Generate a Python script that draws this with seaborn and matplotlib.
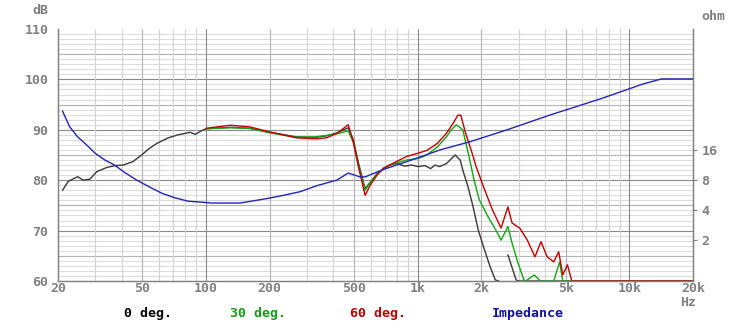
# Frequency response (0/30/60 deg) plus impedance, log frequency axis
import seaborn as sns
import matplotlib.pyplot as plt
import numpy as np

# 0 deg. (dB)
black_f = [21, 22.4, 24.8, 26.3, 28.3, 30.5, 33.9, 37.2, 40.7, 45.2, 49.7, 53.6,
           58.6, 66.3, 73.8, 84.2, 89, 95.2, 100, 130, 160, 200, 268, 330, 371,
           416, 470, 497, 525, 565, 597, 643, 688, 737, 796, 870, 938, 1006,
           1084, 1151, 1209, 1271, 1368, 1504, 1589, 1635, 1730, 1829, 1935,
           2047, 2202, 2330, 2420]
black_db = [78.0, 79.8, 80.7, 80.0, 80.2, 81.7, 82.5, 82.9, 83.0, 83.7, 85.0, 86.2,
            87.3, 88.4, 89.0, 89.5, 89.1, 89.8, 90.2, 90.5, 90.3, 89.5, 88.6, 88.5,
            88.8, 89.4, 90.4, 88.0, 83.5, 78.3, 79.6, 81.3, 82.2, 83.0, 83.3, 82.8,
            83.0, 82.7, 82.9, 82.3, 83.0, 82.7, 83.3, 85.0, 84.0, 82.0, 78.7, 74.7,
            70.1, 66.8, 62.8, 60.2, 60.0]
black2_f = [2670, 2920, 3000, 20000]
black2_db = [65.2, 60.2, 60.0, 60.0]

# 30 deg. (dB)
green_f = [100, 130, 160, 200, 268, 330, 371, 416, 470, 497, 525, 565, 597, 643,
           688, 737, 886, 1006, 1106, 1239, 1368, 1442, 1524, 1635, 1749, 1849,
           1957, 2149, 2363, 2479, 2670, 2795, 2983, 3181, 3240, 3560, 3800,
           4395, 4690, 4850, 20000]
green_db = [90.2, 90.4, 90.3, 89.4, 88.5, 88.6, 88.9, 89.2, 89.8, 87.5, 83.0, 78.0,
            79.5, 81.2, 82.2, 83.0, 84.0, 84.3, 85.0, 86.6, 88.6, 90.0, 91.0, 90.0,
            84.7, 80.0, 76.1, 72.8, 69.8, 68.1, 70.8, 67.5, 63.5, 60.2, 60.0, 61.2,
            60.0, 60.0, 63.8, 60.0, 60.0]

# 60 deg. (dB)
red_f = [100, 130, 160, 200, 268, 330, 371, 416, 470, 497, 525, 565, 597, 643,
         688, 737, 886, 1030, 1106, 1239, 1368, 1472, 1550, 1600, 1686, 1790,
         1890, 2047, 2258, 2479, 2670, 2795, 3037, 3300, 3584, 3830, 4090, 4395,
         4640, 4850, 5100, 5355, 20000]
red_db = [90.3, 90.9, 90.6, 89.6, 88.4, 88.2, 88.4, 89.3, 91.0, 87.6, 82.7, 77.0,
          79.0, 81.0, 82.4, 83.0, 84.7, 85.5, 85.9, 87.3, 89.3, 91.3, 92.9, 92.9,
          89.3, 86.0, 82.7, 78.7, 74.1, 70.5, 74.7, 71.5, 70.5, 68.1, 64.8, 67.8,
          64.8, 63.8, 65.8, 61.2, 63.2, 60.0, 60.0]

# Impedance (ohm)
imp_f = [21, 22.7, 24.7, 27.3, 29.9, 33.3, 37.0, 41.4, 47.0, 53.5, 61.8, 71.4, 82.6,
         95.2, 106, 145, 193, 231, 278, 333, 416, 470, 534, 565, 688, 886, 1006,
         1271, 1770, 2630, 4220, 7270, 10000, 11600, 14200, 20000]
imp_ohm = [39.4, 27.4, 21.8, 18.0, 14.9, 12.7, 11.3, 9.5, 8.0, 6.9, 5.9, 5.3, 4.9,
           4.8, 4.7, 4.7, 5.2, 5.6, 6.1, 7.0, 8.0, 9.4, 8.6, 8.6, 10.2, 12.2, 13.4,
           16.0, 19.4, 25.4, 35.9, 52.0, 65.8, 73.5, 82.7, 82.7]

x_ticks = [20, 50, 100, 200, 500, 1000, 2000, 5000, 10000, 20000]
x_labels = ["20", "50", "100", "200", "500", "1k", "2k", "5k", "10k", "20k"]
db_ticks = [60, 70, 80, 90, 100, 110]
ohm_ticks = [2, 4, 8, 16]

sns.set_style("white")
plt.rcParams["font.family"] = ["DejaVu Sans Mono"]

fig = plt.figure(figsize=(7.37, 3.22), dpi=100)
ax = fig.add_axes([58 / 737, 1 - 281 / 322, 635 / 737, 252 / 322])
ax.set_xscale("log")
ax.set_xlim(20, 20000)
ax.set_ylim(60, 110)

# grid
for v in range(61, 110):
    c = "#8a8a8a" if v % 10 == 0 else ("#b4b4b4" if v % 5 == 0 else "#dcdcdc")
    ax.axhline(v, color=c, lw=0.8, zorder=0)
for dec in [10, 100, 1000, 10000]:
    for m in range(1, 10):
        v = dec * m
        if v <= 20 or v >= 20000:
            continue
        if m == 1:
            c = "#8a8a8a"
        elif m in (2, 5):
            c = "#b4b4b4"
        else:
            c = "#d4d4d4"
        ax.axvline(v, color=c, lw=0.8, zorder=0)

sns.lineplot(x=black_f, y=black_db, ax=ax, color="#383838", lw=1.0,
             estimator=None, sort=False)
sns.lineplot(x=black2_f, y=black2_db, ax=ax, color="#383838", lw=1.0,
             estimator=None, sort=False)
sns.lineplot(x=green_f, y=green_db, ax=ax, color="#10a810", lw=1.0,
             estimator=None, sort=False)
sns.lineplot(x=red_f, y=red_db, ax=ax, color="#c80000", lw=1.0,
             estimator=None, sort=False)

ax2 = ax.twinx()
ax2.set_yscale("log", base=2)
ax2.set_ylim(0.776, 262)
ax2.set_xlim(20, 20000)
sns.lineplot(x=imp_f, y=imp_ohm, ax=ax2, color="#2424b4", lw=1.0,
             estimator=None, sort=False)

gray = "#808080"
tfont = dict(fontsize=9.5, fontweight="bold", color=gray)
ax.set_xticks(x_ticks)
ax.set_xticklabels(x_labels, **tfont)
ax.xaxis.set_minor_locator(plt.NullLocator())
ax.set_yticks(db_ticks)
ax.set_yticklabels([str(v) for v in db_ticks], **tfont)
ax.tick_params(axis="x", length=0, pad=1)
ax.tick_params(axis="y", length=0, pad=7)
ax.set_xlabel("")
ax.set_ylabel("")

ax2.set_yticks(ohm_ticks)
ax2.set_yticklabels([str(v) for v in ohm_ticks], **tfont)
ax2.yaxis.set_minor_locator(plt.NullLocator())
ax2.tick_params(axis="y", length=3, width=0.8, color=gray, pad=3)
ax2.set_ylabel("")

for a in (ax, ax2):
    for s in a.spines.values():
        s.set_color(gray)
        s.set_linewidth(0.9)
    a.spines["top"].set_visible(False)

fig.text(40 / 737, 1 - 10 / 322, "dB", ha="center", va="center", **tfont)
fig.text(713 / 737, 1 - 17 / 322, "ohm", ha="center", va="center", **tfont)
fig.text(688 / 737, 1 - 303 / 322, "Hz", ha="center", va="center", **tfont)

leg = [("0 deg.", "#000000", 148), ("30 deg.", "#10a010", 258),
       ("60 deg.", "#c00000", 378), ("Impedance", "#1010a0", 528)]
for txt, col, xc in leg:
    fig.text(xc / 737, 1 - 313 / 322, txt, ha="center", va="center",
             fontsize=9.5, fontweight="bold", color=col)

fig.savefig("out.png", dpi=100)
